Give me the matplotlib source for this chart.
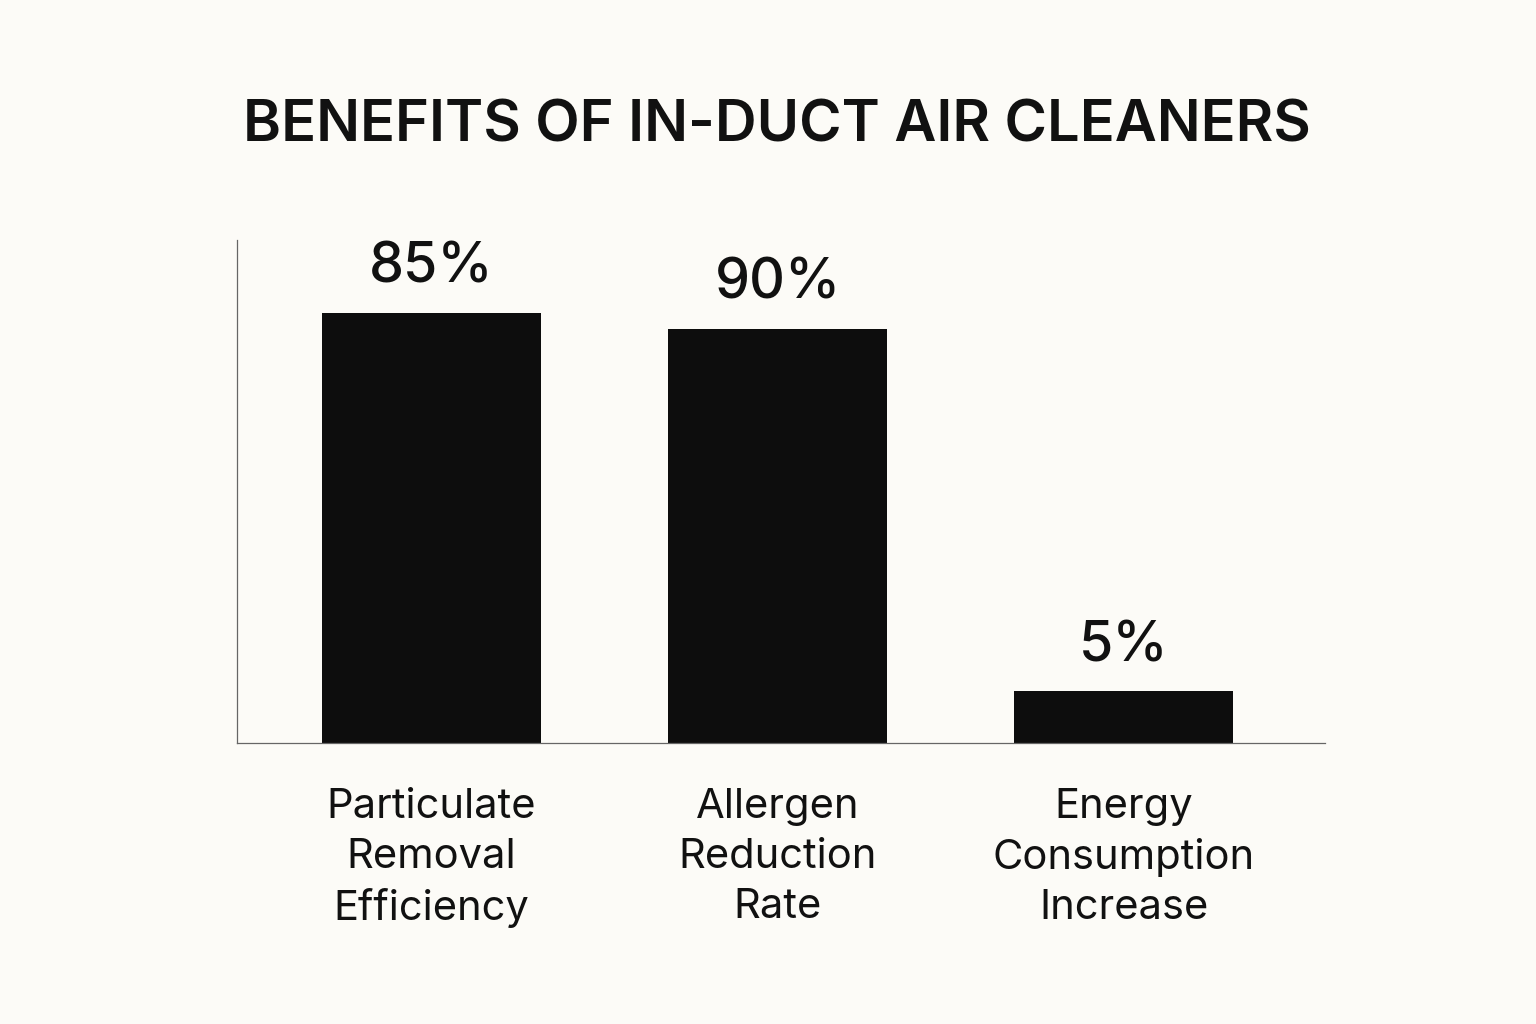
import matplotlib
matplotlib.use("Agg")
import matplotlib.pyplot as plt

# Data
categories = ["Particulate\nRemoval\nEfficiency", "Allergen\nReduction\nRate", "Energy\nConsumption\nIncrease"]
value_labels = ["85%", "90%", "5%"]
# bar heights as drawn in the reference (axis units, 0-100 scale of the axis height)
bar_heights = [85.5, 82.3, 10.3]

bg = "#FCFBF7"
FONT = ["Inter", "DejaVu Sans"]
fig = plt.figure(figsize=(15.36, 10.24), dpi=100, facecolor=bg)
ax = fig.add_axes([0.1543, 0.2744, 0.7083, 0.4912], facecolor=bg)

x = list(range(len(categories)))
bars = ax.bar(x, bar_heights, width=0.633, color="#0D0D0D", zorder=2)

ax.set_xlim(-0.562, 2.582)
ax.set_ylim(0, 100)

for xi, h, lab in zip(x, bar_heights, value_labels):
    ax.annotate(lab, (xi, h), xytext=(0, 32.5), textcoords="offset points",
                ha="center", va="center", fontsize=40, color="#111111",
                family=FONT, fontweight="medium")

ax.set_xticks(x)
ax.set_xticklabels(categories, fontsize=30, family=FONT,
                   color="#111111", linespacing=1.39)
ax.tick_params(axis="x", length=0, pad=32.5)
ax.set_yticks([])

for s in ["top", "right"]:
    ax.spines[s].set_visible(False)
for s in ["left", "bottom"]:
    ax.spines[s].set_color("#666666")
    ax.spines[s].set_linewidth(0.9)

fig.text(0.506, 0.876, "BENEFITS OF IN-DUCT AIR CLEANERS", ha="center", va="center",
         fontsize=41.6, color="#111111", family=FONT, fontweight="semibold")

fig.savefig("out.png", dpi=100, facecolor=bg)
